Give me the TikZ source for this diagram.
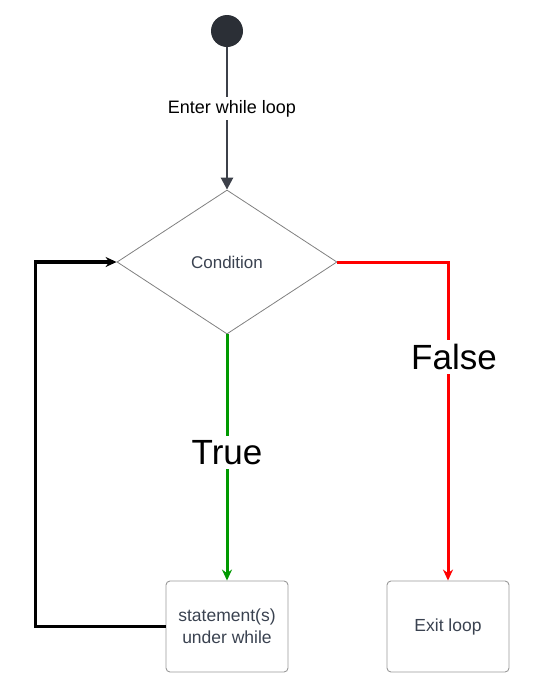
\documentclass[tikz,border=0pt]{standalone}
\usepackage{fontspec}
\setmainfont{Liberation Sans}
\usetikzlibrary{
arrows.meta,
shapes,
}

\definecolor{startcol}{HTML}{2B2F36}
\definecolor{flowcol}{HTML}{3C4049}
\definecolor{textcol}{HTML}{3A4250}
\definecolor{truecol}{HTML}{009900}
\definecolor{falsecol}{HTML}{FF0000}

\tikzset{
	smalltext/.style={font=\fontsize{17}{20}\selectfont},
	bigtext/.style={font=\fontsize{35}{40}\selectfont, fill=white, inner sep=4pt},
	decision/.style={diamond, draw=gray, line width=0.8pt, inner sep=0pt,
		minimum width=220pt, minimum height=144pt, text=textcol, smalltext},
	block/.style={rectangle, draw=gray!80, line width=0.9pt, rounded corners=4pt,
		minimum width=122pt, minimum height=91pt, align=center, text=textcol,
		font=\fontsize{17.5}{22}\selectfont},
	flow/.style={line width=#1, -{Stealth[length=11pt, width=10pt]}},
	flow/.default=3pt,
}

\begin{document}
\begin{tikzpicture}[x=1pt, y=-1pt]
			\useasboundingbox (0,0) rectangle (546,689);

			\node[circle, fill=startcol, minimum size=32pt, inner sep=0pt] (start) at (227,31) {};
			\node[decision] (cond) at (227,262) {Condition};
			\node[block] (stmt) at (227,626.5) {statement(s)\\under while};
			\node[block] (exit) at (448,626.5) {Exit loop};

			\draw[flow=2.5pt, draw=flowcol, -{Triangle[length=12pt, width=12pt]}] (start) -- (cond.north)
				node[pos=0.43, fill=white, font=\fontsize{18}{20}\selectfont, xshift=5pt] (enter) {Enter while loop};
			\draw[flow, draw=truecol] (cond.south) -- (stmt.north)
				node[pos=0.48, bigtext] (yes) {True};
			\draw[flow, draw=falsecol] (cond.east) -| (exit.north)
				node[pos=0.649, bigtext, xshift=6pt] (no) {False};
			\draw[flow=3.2pt, draw=black] (stmt.west) -- ++(-130,0) |- (cond.west);
		\end{tikzpicture}
\end{document}
